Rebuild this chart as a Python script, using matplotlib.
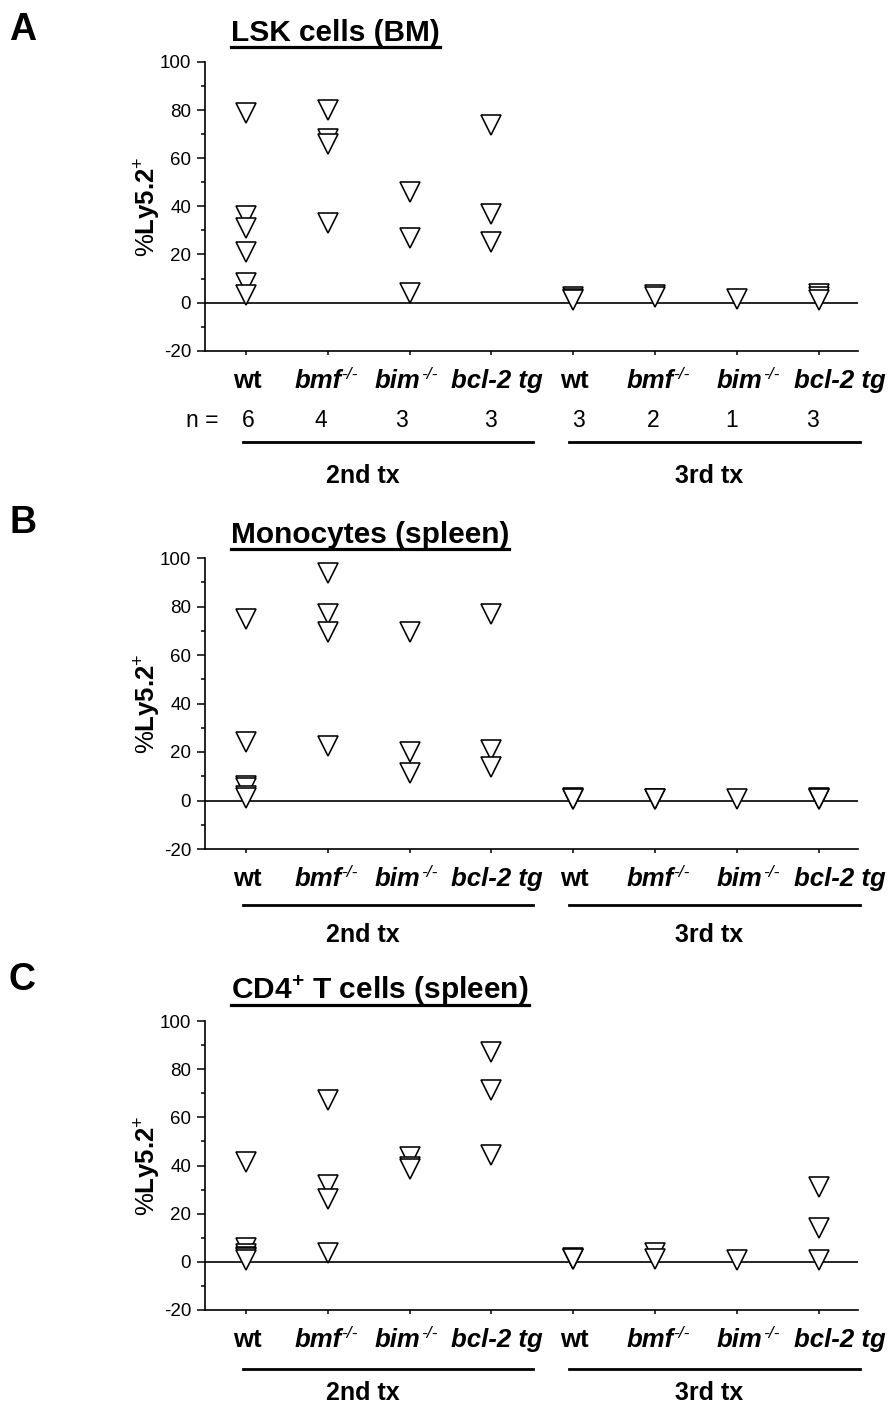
import matplotlib
matplotlib.use('Agg')
import matplotlib.pyplot as plt
from matplotlib.lines import Line2D
from matplotlib.ticker import MultipleLocator

plt.rcParams['font.family'] = ['Liberation Sans', 'DejaVu Sans']
plt.rcParams['mathtext.fontset'] = 'custom'
plt.rcParams['mathtext.rm'] = 'Liberation Sans'
plt.rcParams['mathtext.it'] = 'Liberation Sans:italic'
plt.rcParams['mathtext.bf'] = 'Liberation Sans:bold'
plt.rcParams['axes.unicode_minus'] = False

# ---------------- data ----------------
genotype_base = ['wt', 'bmf', 'bim', 'bcl-2 tg']
genotype_sup = ['', '-/-', '-/-', '']
genotype_italic = [False, True, True, True]
group_labels = ['2nd tx', '3rd tx']
n_counts = [6, 4, 3, 3, 3, 2, 1, 3]
y_ticks = [-20, 0, 20, 40, 60, 80, 100]

# Panel A: LSK cells (BM)
lsk_wt_2nd = [79, 36, 31, 21, 8, 3]
lsk_bmf_2nd = [80, 68, 66, 33]
lsk_bim_2nd = [46, 27, 4]
lsk_bcl2_2nd = [74, 37, 25]
lsk_wt_3rd = [2.5, 1.5, 1.0]
lsk_bmf_3rd = [3.0, 2.5]
lsk_bim_3rd = [1.5]
lsk_bcl2_3rd = [3.5, 2.5, 1.0]

# Panel B: Monocytes (spleen)
mono_wt_2nd = [75, 24, 6, 5, 2, 1]
mono_bmf_2nd = [94, 77, 69.5, 22.5]
mono_bim_2nd = [69.5, 20, 11.5]
mono_bcl2_2nd = [77, 21, 14]
mono_wt_3rd = [1.0, 0.8, 0.5]
mono_bmf_3rd = [0.8, 0.6]
mono_bim_3rd = [0.6]
mono_bcl2_3rd = [1.0, 0.8, 0.6]

# Panel C: CD4+ T cells (spleen)
cd4_wt_2nd = [41.5, 5.7, 3.2, 2.2, 1.5, 0.8]
cd4_bmf_2nd = [67, 32, 26, 3.7]
cd4_bim_2nd = [43.5, 39.5, 38.5]
cd4_bcl2_2nd = [87, 71.5, 44.5]
cd4_wt_3rd = [1.5, 1.2, 1.0]
cd4_bmf_3rd = [3.7, 1.0]
cd4_bim_3rd = [0.6]
cd4_bcl2_3rd = [31, 14, 0.6]

panels = [
    dict(letter='A', title='LSK cells (BM)',
         series=[lsk_wt_2nd, lsk_bmf_2nd, lsk_bim_2nd, lsk_bcl2_2nd,
                 lsk_wt_3rd, lsk_bmf_3rd, lsk_bim_3rd, lsk_bcl2_3rd],
         show_n=True),
    dict(letter='B', title='Monocytes (spleen)',
         series=[mono_wt_2nd, mono_bmf_2nd, mono_bim_2nd, mono_bcl2_2nd,
                 mono_wt_3rd, mono_bmf_3rd, mono_bim_3rd, mono_bcl2_3rd],
         show_n=False),
    dict(letter='C', title=r'CD4$^{\mathbf{+}}$ T cells (spleen)',
         series=[cd4_wt_2nd, cd4_bmf_2nd, cd4_bim_2nd, cd4_bcl2_2nd,
                 cd4_wt_3rd, cd4_bmf_3rd, cd4_bim_3rd, cd4_bcl2_3rd],
         show_n=False),
]

# ---------------- layout (pixels) ----------------
W, H = 890, 1403
fig = plt.figure(figsize=(W / 100, H / 100), dpi=100)
renderer = fig.canvas.get_renderer()


def fx(px):
    return px / W


def fy(py):
    return 1 - py / H


ax_left, ax_right = 205, 858
layout = [
    dict(top=62, bottom=350.7, letter_base=40, title_base=41, uline=47,
         n_base=427, gline=442, gbase=483),
    dict(top=558, bottom=849, letter_base=533, title_base=543, uline=549,
         n_base=None, gline=905, gbase=942),
    dict(top=1021, bottom=1310, letter_base=990, title_base=999, uline=1005,
         n_base=None, gline=1369, gbase=1400),
]
label_px = [247, 326, 406, 497, 574, 658, 748, 840]
n_px = [248, 321, 401, 490, 578, 653, 732, 812]
group_line_px = [(243, 533), (569, 860)]
group_label_px = [363, 709]

title_texts = []
for p, L in zip(panels, layout):
    ax = fig.add_axes([fx(ax_left), fy(L['bottom']), (ax_right - ax_left) / W,
                       (L['bottom'] - L['top']) / H])
    for i, vals in enumerate(p['series']):
        vs = sorted(vals, reverse=True)
        ax.plot([i] * len(vs), vs, linestyle='none', marker='v', ms=14,
                mfc='white', mec='black', mew=1.15, zorder=3)
    ax.axhline(0, color='black', lw=1.2, zorder=2)
    ax.set_xlim(-0.5, 7.48)
    ax.set_ylim(-20, 100)
    ax.set_yticks(y_ticks)
    ax.yaxis.set_minor_locator(MultipleLocator(10))
    ax.set_xticks(range(8))
    ax.set_xticklabels([])
    for s in ['top', 'right']:
        ax.spines[s].set_visible(False)
    for s in ['left', 'bottom']:
        ax.spines[s].set_linewidth(1.2)
    ax.tick_params(axis='y', which='major', direction='out', length=5.5,
                   width=1.1, labelsize=13.5, pad=4.5)
    ax.tick_params(axis='y', which='minor', direction='out', length=3,
                   width=1.1)
    ax.tick_params(axis='x', which='major', direction='out', length=3,
                   width=1.1)
    ax.set_ylabel(r'$\%$Ly5.2$^{+}$', fontsize=18.5, fontweight='bold')
    ax.yaxis.set_label_coords((163 - ax_left) / (ax_right - ax_left), 0.5)

    # panel letter
    fig.text(fx(9), fy(L['letter_base']), p['letter'], fontsize=27,
             fontweight='bold', va='baseline', ha='left')
    # title
    t = fig.text(fx(231), fy(L['title_base']), p['title'], fontsize=21.5,
                 fontweight='bold', va='baseline', ha='left')
    title_texts.append((t, L['uline']))

    # category labels (base + superscript)
    base_y = L['bottom'] + 37
    for i in range(8):
        g = i % 4
        tb = fig.text(0, fy(base_y), genotype_base[g], fontsize=18.5,
                      fontweight='bold',
                      fontstyle='italic' if genotype_italic[g] else 'normal',
                      ha='left', va='baseline')
        wb = tb.get_window_extent(renderer).width
        if genotype_sup[g]:
            ts = fig.text(0, fy(base_y - 9), genotype_sup[g], fontsize=12.5,
                          fontstyle='italic', ha='left', va='baseline')
            ws = ts.get_window_extent(renderer).width
            gap = 0
            x0 = label_px[i] - (wb + gap + ws) / 2
            tb.set_x(fx(x0))
            ts.set_x(fx(x0 + wb + gap))
        else:
            tb.set_x(fx(label_px[i] - wb / 2))
    # n row
    if p['show_n']:
        fig.text(fx(218), fy(L['n_base']), 'n =', fontsize=16.5,
                 ha='right', va='baseline')
        for i in range(8):
            fig.text(fx(n_px[i]), fy(L['n_base']), str(n_counts[i]),
                     fontsize=16.5, ha='center', va='baseline')
    # group lines and labels
    for (x0, x1), gx, gl in zip(group_line_px, group_label_px, group_labels):
        fig.add_artist(Line2D([fx(x0), fx(x1)], [fy(L['gline'])] * 2,
                              color='black', lw=2.0,
                              transform=fig.transFigure))
        fig.text(fx(gx), fy(L['gbase']), gl, fontsize=18, fontweight='bold',
                 ha='center', va='baseline')

# underline titles
fig.canvas.draw()
for t, uy in title_texts:
    bb = t.get_window_extent(renderer)
    fig.add_artist(Line2D([bb.x0 / W, bb.x1 / W], [fy(uy)] * 2, color='black',
                          lw=2.3, transform=fig.transFigure))

fig.savefig('out.png', dpi=100)
